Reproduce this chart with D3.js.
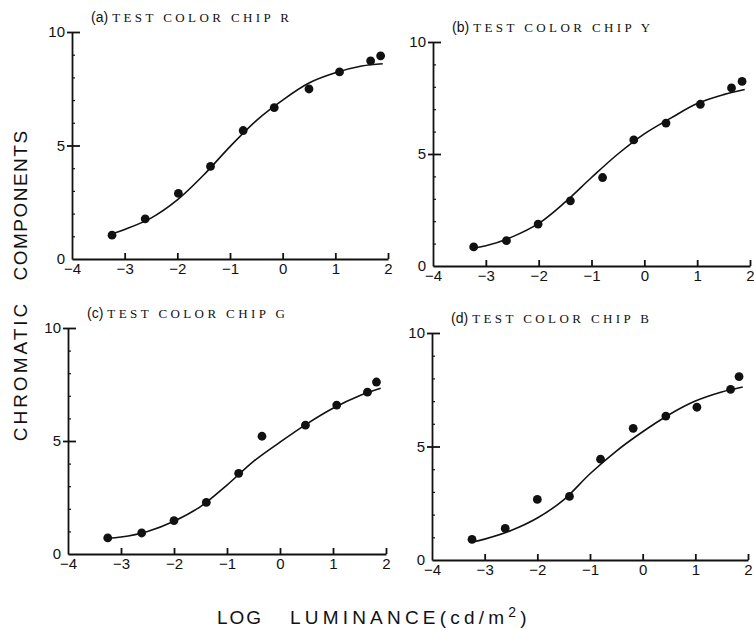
<!DOCTYPE html>
<html lang="en">
<head>
<meta charset="UTF-8">
<title>Chromatic components vs log luminance</title>
<script src="https://cdn.jsdelivr.net/npm/d3@7"></script>
<style>
    body { margin: 0; background: #fff; }
    .tick text { font-family: "Liberation Sans", Arial, sans-serif; font-size: 15px; fill: #111; }
    .axis path, .axis line { stroke: #111; stroke-width: 1.8; }
    .title-tag { font-family: "Liberation Sans", Arial, sans-serif; font-size: 14px; fill: #111; }
    .title-body { font-family: "Liberation Serif", "DejaVu Serif", serif; font-size: 13px; letter-spacing: 3.4px; fill: #111; }
    .big-label { font-family: "Liberation Sans", Arial, sans-serif; font-size: 19px; fill: #111; }
</style>
</head>
<body>
<div id="chart"></div>
<script>
    // values
    var panelTags = ["a", "b", "c", "d"];
    var chipNames = ["R", "Y", "G", "B"];
    var xTicks = [-4, -3, -2, -1, 0, 1, 2];
    var yTicks = [0, 5, 10];
    var yMinor = [1, 2, 3, 4, 6, 7, 8, 9];

    // measured points, one pair of arrays per chip
    var rX = [-3.24, -2.61, -1.98, -1.37, -0.75, -0.16, 0.50, 1.08, 1.67, 1.86];
    var rY = [1.05, 1.77, 2.89, 4.08, 5.66, 6.67, 7.49, 8.24, 8.73, 8.95];
    var yX = [-3.23, -2.61, -2.01, -1.40, -0.79, -0.20, 0.41, 1.06, 1.65, 1.85];
    var yY = [0.85, 1.13, 1.87, 2.91, 3.95, 5.63, 6.38, 7.22, 7.95, 8.24];
    var gX = [-3.25, -2.61, -2.00, -1.39, -0.78, -0.34, 0.48, 1.07, 1.65, 1.82];
    var gY = [0.71, 0.93, 1.48, 2.28, 3.57, 5.21, 5.70, 6.59, 7.16, 7.61];
    var bX = [-3.24, -2.61, -2.00, -1.39, -0.80, -0.18, 0.44, 1.03, 1.67, 1.83];
    var bY = [0.91, 1.39, 2.67, 2.80, 4.44, 5.80, 6.34, 6.73, 7.52, 8.08];

    // fitted curves, read at these x positions
    var fitX = [-3.25, -3, -2.5, -2, -1.5, -1, -0.5, 0, 0.5, 1, 1.5, 1.9];
    var rFit = [1.1, 1.3, 1.8, 2.6, 3.7, 4.95, 6.1, 7.0, 7.75, 8.2, 8.5, 8.6];
    var yFit = [0.8, 0.9, 1.3, 1.9, 2.85, 3.95, 5.0, 5.9, 6.6, 7.25, 7.65, 7.88];
    var gFit = [0.7, 0.75, 1.0, 1.45, 2.1, 3.05, 4.1, 4.95, 5.75, 6.45, 7.0, 7.33];
    var bFit = [0.78, 0.92, 1.3, 1.85, 2.65, 3.8, 4.8, 5.65, 6.4, 7.0, 7.4, 7.62];

    var pointsX = [rX, yX, gX, bX];
    var pointsY = [rY, yY, gY, bY];
    var fits = [rFit, yFit, gFit, bFit];

    // where each plot box sits on the page
    var boxes = [
        { left: 72, right: 388, top: 32, bottom: 259 },
        { left: 433, right: 750, top: 42, bottom: 266 },
        { left: 68, right: 386, top: 328, bottom: 554 },
        { left: 432, right: 748, top: 333, bottom: 560 }
    ];

    var width = 754, height = 630;
    var svg = d3.select("#chart").append("svg")
        .attr("width", width)
        .attr("height", height);

    boxes.forEach(function (b, i) {
        var x = d3.scaleLinear().domain([-4, 2]).range([b.left, b.right]);
        var y = d3.scaleLinear().domain([0, 10]).range([b.bottom, b.top]);
        var g = svg.append("g");

        // x axis, ticks pointing up
        g.append("g").attr("class", "axis")
            .attr("transform", "translate(0," + b.bottom + ")")
            .call(d3.axisBottom(x).tickValues(xTicks).tickSize(-6).tickSizeOuter(0).tickPadding(4)
                .tickFormat(d3.format("d")))
            .call(function (s) { s.selectAll(".tick line").filter(function (d) { return d === -4; }).remove(); });

        // y axis
        g.append("g").attr("class", "axis")
            .attr("transform", "translate(" + b.left + ",0)")
            .call(d3.axisLeft(y).tickValues(yTicks).tickSize(5).tickSizeOuter(0).tickPadding(2)
                .tickFormat(d3.format("d")))
            .call(function (s) { s.selectAll(".tick line").filter(function (d) { return d === 0; }).remove(); });
        // inside bits of the major ticks
        g.append("g").attr("class", "axis")
            .attr("transform", "translate(" + b.left + ",0)")
            .call(d3.axisLeft(y).tickValues([5, 10]).tickSize(-8).tickSizeOuter(0).tickFormat(""))
            .call(function (s) { s.select(".domain").remove(); });
        // minor ticks
        g.append("g").attr("class", "axis")
            .attr("transform", "translate(" + b.left + ",0)")
            .call(d3.axisLeft(y).tickValues(yMinor).tickSize(-3).tickSizeOuter(0).tickFormat(""))
            .call(function (s) {
                s.select(".domain").remove();
                s.selectAll(".tick line").style("stroke-width", 1.2);
            });

        // fitted curve
        var line = d3.line()
            .x(function (d, k) { return x(fitX[k]); })
            .y(function (d) { return y(d); })
            .curve(d3.curveCatmullRom);
        g.append("path")
            .datum(fits[i])
            .attr("d", line)
            .attr("fill", "none")
            .attr("stroke", "#111")
            .attr("stroke-width", 1.6);

        // measured points
        g.selectAll("circle")
            .data(pointsY[i])
            .enter().append("circle")
            .attr("cx", function (d, k) { return x(pointsX[i][k]); })
            .attr("cy", function (d) { return y(d); })
            .attr("r", 4.4)
            .attr("fill", "#111");

        // panel title
        var t = g.append("text")
            .attr("x", b.left + 19)
            .attr("y", b.top - 10);
        t.append("tspan").attr("class", "title-tag").text("(" + panelTags[i] + ")");
        t.append("tspan").attr("class", "title-body").attr("dx", 4)
            .text("TEST COLOR CHIP  " + chipNames[i]);
    });

    // shared axis titles
    svg.append("text")
        .attr("class", "big-label")
        .attr("transform", "translate(27,205) rotate(-90)")
        .attr("text-anchor", "middle")
        .style("letter-spacing", "1.5px")
        .text("COMPONENTS");
    svg.append("text")
        .attr("class", "big-label")
        .attr("transform", "translate(27,371) rotate(-90)")
        .attr("text-anchor", "middle")
        .style("letter-spacing", "3px")
        .text("CHROMATIC");

    svg.append("text")
        .attr("class", "big-label")
        .attr("x", 217)
        .attr("y", 624)
        .style("letter-spacing", "2px")
        .text("LOG");
    var lum = svg.append("text")
        .attr("class", "big-label")
        .attr("x", 290)
        .attr("y", 624)
        .style("letter-spacing", "4.2px");
    lum.append("tspan").text("LUMINANCE(cd/m");
    lum.append("tspan").attr("dy", -7).style("font-size", "14px").text("2");
    lum.append("tspan").attr("dy", 7).text(")");
</script>
</body>
</html>
